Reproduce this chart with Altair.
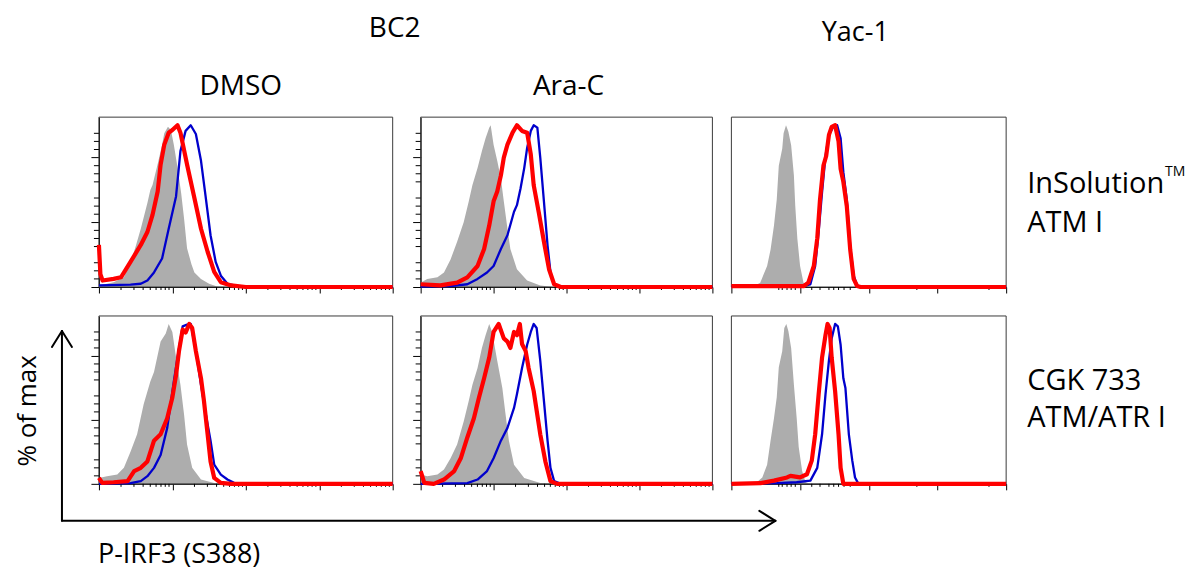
import math
import altair as alt
import pandas as pd

# ---------------- data (x in display decades 0-4, y in % of max) ----------------
DMSO_INS_GRAY = [(0,1),(0.2,3),(0.34,6),(0.43,15),(0.5,25),(0.57,36),(0.66,52),(0.70,60),(0.73,63),(0.80,76),(0.86,88),(0.89,95),(0.94,99),(0.98,97),(1.02,88),(1.07,74),(1.12,58),(1.16,42),(1.2,24),(1.26,14),(1.3,9),(1.39,5),(1.5,2),(1.6,0.5),(1.8,0),(4,0)]
DMSO_INS_BLUE = [(0,1),(0.43,1.5),(0.57,2),(0.66,4),(0.75,9),(0.86,17.6),(0.95,36),(1.05,56),(1.11,84),(1.18,96.5),(1.25,100),(1.32,94.6),(1.39,78),(1.45,57),(1.52,32),(1.59,15.5),(1.66,7),(1.75,2),(1.89,0.5),(2.0,0),(4,0)]
DMSO_INS_RED = [(0,26),(0.02,8),(0.05,4),(0.2,5),(0.3,6),(0.43,15.5),(0.57,26),(0.66,34),(0.73,44.6),(0.8,59),(0.84,75.7),(0.89,88),(0.95,95.4),(1.0,97),(1.07,100),(1.11,95.4),(1.2,75.7),(1.3,55),(1.39,36),(1.48,21.8),(1.57,9.3),(1.66,3),(1.8,1),(2.0,0),(4,0)]

ARAC_INS_GRAY = [(0,2.7),(0.09,5),(0.23,6),(0.32,9),(0.41,17),(0.5,28),(0.59,40),(0.66,53),(0.71,63),(0.78,73.5),(0.84,84),(0.89,92),(0.94,98.5),(0.96,100),(1.0,88),(1.05,78),(1.1,67),(1.14,53),(1.19,36),(1.23,23.5),(1.32,11),(1.46,4),(1.64,1),(1.83,0),(4,0)]
ARAC_INS_BLUE = [(0,0.2),(0.41,0.6),(0.64,1.7),(0.78,5),(0.91,9),(1.0,13),(1.1,23.5),(1.19,32),(1.28,46.5),(1.32,50.6),(1.37,61),(1.42,73.5),(1.46,86),(1.51,96.5),(1.55,100),(1.6,98.5),(1.64,80),(1.69,53),(1.74,25.6),(1.78,9),(1.83,1.7),(1.92,0),(4,0)]
ARAC_INS_RED = [(0,1.7),(0.27,1),(0.5,2.7),(0.64,6),(0.78,13),(0.87,23.5),(0.94,38),(1.0,53),(1.05,59),(1.1,69),(1.14,80),(1.19,88),(1.26,95.4),(1.32,100),(1.39,96.5),(1.46,95.4),(1.51,82),(1.55,63),(1.62,46),(1.69,28),(1.76,11),(1.83,1.7),(1.92,0),(4,0)]

YAC_INS_GRAY = [(0,0),(0.33,0.6),(0.42,2.7),(0.52,13),(0.57,23),(0.62,38),(0.66,54),(0.69,75),(0.74,85.5),(0.76,95),(0.795,100),(0.83,96),(0.87,87.6),(0.91,69),(0.93,50),(0.96,30),(1.0,13),(1.05,2.7),(1.1,0.6),(1.15,0),(4,0)]
YAC_INS_BLUE = [(0,0.3),(1.0,0.3),(1.15,1.7),(1.22,13),(1.27,34),(1.32,58.6),(1.37,81),(1.42,94),(1.49,99.6),(1.54,100),(1.59,92),(1.63,71),(1.68,54),(1.73,25),(1.78,7),(1.83,1),(1.88,0),(4,0)]
YAC_INS_RED = [(0,0.5),(1.05,0.5),(1.12,2.7),(1.2,13),(1.25,30),(1.29,54),(1.34,75),(1.38,81),(1.42,94),(1.46,99),(1.51,100),(1.56,90),(1.59,73),(1.63,65),(1.68,50),(1.73,23),(1.78,5),(1.83,0.6),(1.88,0),(4,0)]

DMSO_CGK_GRAY = [(0,3.7),(0.11,4.8),(0.25,5.8),(0.34,10),(0.43,20),(0.52,31),(0.61,50),(0.7,64),(0.75,70),(0.84,89),(0.91,94),(0.95,100),(1.0,95),(1.05,79),(1.11,62),(1.16,43),(1.2,24.6),(1.27,10),(1.39,2.7),(1.57,0.6),(1.75,0),(4,0)]
DMSO_CGK_BLUE = [(0,0),(0.43,0.4),(0.57,1.7),(0.66,4.8),(0.75,10),(0.84,18),(0.93,35),(1.02,64),(1.07,79),(1.14,98.5),(1.2,99.6),(1.25,100),(1.32,83),(1.39,62),(1.45,45),(1.52,27),(1.57,12),(1.66,5.8),(1.75,2.7),(1.84,0.6),(1.93,0),(4,0)]
DMSO_CGK_RED = [(0,3.7),(0.045,0.6),(0.2,1),(0.39,1.7),(0.48,8),(0.57,10),(0.66,14),(0.75,27),(0.84,31),(0.93,41),(1.0,54),(1.05,68),(1.09,83),(1.14,96.5),(1.18,94.6),(1.23,100),(1.27,97.5),(1.32,83),(1.39,66),(1.43,52),(1.48,31),(1.52,14),(1.57,3.7),(1.66,0.6),(1.8,0),(4,0)]

ARAC_CGK_GRAY = [(0,5.8),(0.09,4.8),(0.23,5.8),(0.32,9),(0.41,16),(0.5,24.6),(0.59,39),(0.66,52),(0.71,62),(0.78,72.5),(0.84,85),(0.89,93),(0.94,100),(0.98,95),(1.05,77),(1.12,60),(1.16,45),(1.21,27),(1.28,12),(1.42,3.7),(1.64,0.6),(1.78,0),(4,0)]
ARAC_CGK_BLUE = [(0,0),(0.64,0.4),(0.78,2.7),(0.91,8),(1.0,16),(1.1,27),(1.19,35),(1.28,47.5),(1.32,56),(1.39,72.5),(1.46,87),(1.51,95),(1.55,100),(1.59,97.5),(1.64,77),(1.69,52),(1.74,27),(1.78,10),(1.83,1.7),(1.92,0),(4,0)]
ARAC_CGK_RED = [(0,8),(0.05,0.6),(0.18,0),(0.32,2.7),(0.46,8),(0.55,16),(0.64,29),(0.73,41),(0.8,54),(0.87,66),(0.94,79),(1.0,95),(1.07,100),(1.14,91),(1.19,89),(1.23,85),(1.28,95),(1.32,93),(1.36,100),(1.39,87.5),(1.44,83),(1.48,72.5),(1.55,58),(1.6,43),(1.64,31),(1.71,14),(1.78,1.7),(1.87,0),(4,0)]

YAC_CGK_GRAY = [(0,0),(0.37,1),(0.45,4),(0.52,12),(0.57,27),(0.62,41),(0.66,54),(0.69,73),(0.74,83),(0.77,97.5),(0.8,100),(0.83,95.4),(0.87,85),(0.91,62),(0.95,41.5),(0.98,23),(1.03,8),(1.08,1),(1.13,0),(4,0)]
YAC_CGK_BLUE = [(0,0),(0.66,0.4),(0.95,1),(1.15,2),(1.25,10),(1.32,31),(1.37,56),(1.42,77),(1.46,91),(1.51,100),(1.55,98.5),(1.59,87),(1.63,66),(1.66,60),(1.71,31),(1.76,14.5),(1.8,4),(1.85,0),(4,0)]
YAC_CGK_RED = [(0,0),(0.42,0.4),(0.62,2),(0.81,4),(0.86,5),(1.0,4),(1.1,6),(1.17,14.5),(1.22,31),(1.27,56),(1.32,79),(1.37,93),(1.4,100),(1.43,97.5),(1.46,79),(1.51,58),(1.56,31),(1.59,10),(1.63,0),(4,0)]

# axis tick values
X_MAJOR = [0, 1, 2, 3, 4]
X_MINOR_LOG = [d + math.log10(k) for d in range(4) for k in range(2, 10)]
X_MINOR_YAC = [0.69, 0.74, 0.81, 0.87, 0.93, 1.17, 1.29, 1.42, 1.49, 1.56, 1.64, 1.73, 2.70, 3.75]
Y_MAJOR = [0, 20, 40, 60, 80, 100]
Y_MINOR = [v for v in range(5, 100, 5) if v % 20 != 0]
Y_TOP = 105

# text
GROUP_LABELS = ["BC2", "Yac-1"]
COLUMN_LABELS = ["DMSO", "Ara-C"]
ROW_LABELS = [["InSolution", "ATM I"], ["CGK 733", "ATM/ATR I"]]
TRADEMARK = "TM"
Y_TITLE = "% of max"
X_TITLE = "P-IRF3 (S388)"

# ---------------- style ----------------
FONT = "Open Sans"
GRAY = "#ADADAD"
BLUE = "#0000CC"
RED = "#FF0000"
FRAME = "#3A3A3A"

ONE = pd.DataFrame({"k": [0]})


def txt(label, x, y, size, align="center", angle=None):
    kw = dict(font=FONT, fontSize=size, color="black", align=align, baseline="alphabetic")
    if angle is not None:
        kw["angle"] = angle
    return alt.Chart(pd.DataFrame({"t": [label]})).mark_text(**kw).encode(
        text="t:N", x=alt.value(x), y=alt.value(y))


def seg(x1, y1, x2, y2):
    return alt.Chart(ONE).mark_rule(color="black", strokeWidth=2, strokeCap="round").encode(
        x=alt.value(x1), y=alt.value(y1), x2=alt.value(x2), y2=alt.value(y2))


def panel(gray, blue, red, plot_w, view_w, h, yaxis, xminor, extras=()):
    if plot_w != view_w:
        xs = alt.Scale(domain=[0, 4], range=[0, plot_w], nice=False, zero=False)
    else:
        xs = alt.Scale(domain=[0, 4], nice=False, zero=False)
    ys = alt.Scale(domain=[0, Y_TOP], nice=False)
    xaxis = alt.Axis(values=X_MAJOR, tickSize=6, labels=False, title=None, grid=False,
                     domainColor="black", tickColor="black", domainWidth=1, tickWidth=1)
    if yaxis:
        yax = alt.Axis(values=Y_MAJOR, tickSize=8, labels=False, title=None, grid=False,
                       domainColor="black", tickColor="black", domainWidth=1, tickWidth=1)
    else:
        yax = None

    g = pd.DataFrame(gray, columns=["x", "y"])
    b = pd.DataFrame(blue, columns=["x", "y"])
    r = pd.DataFrame(red, columns=["x", "y"])
    fr = pd.DataFrame({"x0": [0], "x1": [4], "y0": [0], "y1": [Y_TOP]})

    area = alt.Chart(g).mark_area(color=GRAY, opacity=1).encode(
        x=alt.X("x:Q", scale=xs, axis=xaxis),
        y=alt.Y("y:Q", scale=ys, axis=yax))
    frame = alt.Chart(fr).mark_rect(fillOpacity=0, stroke=FRAME, strokeWidth=1).encode(
        x="x0:Q", x2="x1:Q", y="y0:Q", y2="y1:Q")
    xmin = alt.Chart(pd.DataFrame({"v": xminor})).mark_rule(color="black", strokeWidth=1).encode(
        x="v:Q", y=alt.value(h), y2=alt.value(h + 3))
    layers = [area, frame, xmin]
    if yaxis:
        ymin = alt.Chart(pd.DataFrame({"v": Y_MINOR})).mark_rule(color="black", strokeWidth=1).encode(
            y="v:Q", x=alt.value(-5), x2=alt.value(0))
        layers.append(ymin)
    bl = alt.Chart(b).mark_line(color=BLUE, strokeWidth=2.3, strokeJoin="round").encode(x="x:Q", y="y:Q")
    rl = alt.Chart(r).mark_line(color=RED, strokeWidth=4.2, strokeJoin="round").encode(x="x:Q", y="y:Q")
    layers += [bl, rl]
    layers += list(extras)
    return alt.layer(*layers).properties(width=view_w, height=h)


H1, H2 = 170, 168

p1 = panel(DMSO_INS_GRAY, DMSO_INS_BLUE, DMSO_INS_RED, 294, 303, H1, True, X_MINOR_LOG, [
    txt(GROUP_LABELS[0], 296, -80, 28),
    txt(COLUMN_LABELS[0], 142, -22, 28),
])
p2 = panel(ARAC_INS_GRAY, ARAC_INS_BLUE, ARAC_INS_RED, 292, 292, H1, True, X_MINOR_LOG, [
    txt(COLUMN_LABELS[1], 148, -22, 28),
])
p3 = panel(YAC_INS_GRAY, YAC_INS_BLUE, YAC_INS_RED, 275, 275, H1, False, X_MINOR_YAC, [
    txt(GROUP_LABELS[1], 124, -76, 27),
    txt(ROW_LABELS[0][0], 296, 76, 29, align="left"),
    txt(TRADEMARK, 434, 59, 14, align="left"),
    txt(ROW_LABELS[0][1], 296, 115, 29, align="left"),
])
p4 = panel(DMSO_CGK_GRAY, DMSO_CGK_BLUE, DMSO_CGK_RED, 294, 303, H2, True, X_MINOR_LOG, [
    seg(-37, 205, -37, 15), seg(-37, 15, -47, 31), seg(-37, 15, -27, 31),
    seg(-37, 205, 677, 205), seg(677, 205, 661, 195), seg(677, 205, 661, 215),
    txt(Y_TITLE, -63, 95, 26, angle=270),
    txt(X_TITLE, -1, 247, 27, align="left"),
])
p5 = panel(ARAC_CGK_GRAY, ARAC_CGK_BLUE, ARAC_CGK_RED, 292, 292, H2, True, X_MINOR_LOG)
p6 = panel(YAC_CGK_GRAY, YAC_CGK_BLUE, YAC_CGK_RED, 275, 275, H2, False, X_MINOR_YAC, [
    txt(ROW_LABELS[1][0], 296, 74, 29, align="left"),
    txt(ROW_LABELS[1][1], 296, 111, 29, align="left"),
])

chart = alt.concat(p1, p2, p3, p4, p5, p6, columns=3,
                   spacing={"row": 29, "column": 19}, bounds="flush").properties(
    padding={"left": 6, "top": 6, "right": 5, "bottom": 5}
).configure_view(stroke="transparent")

chart.save("out.html", embed_options={"renderer": "svg", "actions": False})
